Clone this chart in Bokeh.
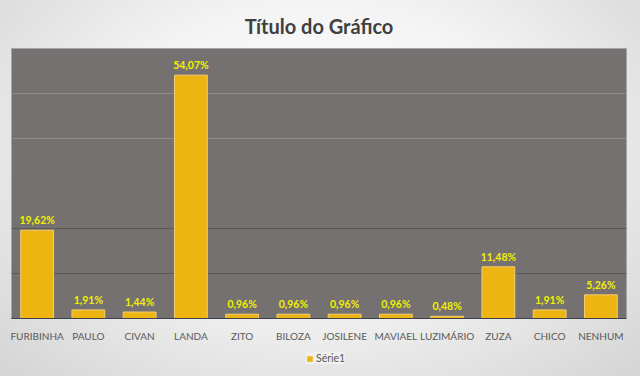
from bokeh.plotting import figure
from bokeh.layouts import column
from bokeh.models import (ColumnDataSource, FactorRange, Range1d, Grid, FixedTicker,
                          Legend, LegendItem, InlineStyleSheet, LabelSet)
from bokeh.core.properties import value
from bokeh.embed import file_html
from bokeh.resources import INLINE

categories = ["FURIBINHA", "PAULO", "CIVAN", "LANDA", "ZITO", "BILOZA", "JOSILENE",
              "MAVIAEL", "LUZIMÁRIO", "ZUZA", "CHICO", "NENHUM"]
values = [19.62, 1.91, 1.44, 54.07, 0.96, 0.96, 0.96, 0.96, 0.48, 11.48, 1.91, 5.26]
labels = ["19,62%", "1,91%", "1,44%", "54,07%", "0,96%", "0,96%", "0,96%", "0,96%",
          "0,48%", "11,48%", "1,91%", "5,26%"]
series_name = "Série1"
title_text = "Título do Gráfico"

src = ColumnDataSource(dict(cat=categories, val=values, lab=labels))

FONT = "Lato"
BAR_FILL = "#EDB412"
BAR_LINE = "#F2CE73"

xr = FactorRange(*categories, range_padding=0)

p = figure(width=640, height=344, output_backend="svg", toolbar_location=None,
           x_range=xr, y_range=Range1d(0, 60),
           min_border_left=11, min_border_right=14, min_border_top=48,
           min_border_bottom=22)
p.border_fill_color = None
p.background_fill_color = "#767171"
p.outline_line_color = "#a5a5a5"

p.title.text = title_text
p.title.align = "center"
p.title.text_font = FONT
p.title.text_font_size = "20px"
p.title.text_font_style = "bold"
p.title.text_color = "#404040"
p.title.standoff = 22

bars = p.vbar(x="cat", top="val", width=0.64, source=src,
              fill_color=BAR_FILL, line_color=BAR_LINE, line_width=1)

lbl = LabelSet(x="cat", y="val", text="lab", source=src, text_align="center",
               text_baseline="bottom", y_offset=4, text_color="#F0F000",
               text_font=value(FONT), text_font_size="10.5px", text_font_style="bold")
p.add_layout(lbl)

p.xgrid.visible = False
p.ygrid.visible = False
g1 = Grid(dimension=1, ticker=FixedTicker(ticks=[40, 50]), grid_line_color="#8e8a8a", grid_line_width=1)
g2 = Grid(dimension=1, ticker=FixedTicker(ticks=[10, 20]), grid_line_color="#5c5858", grid_line_width=1)
p.add_layout(g1, "center")
p.add_layout(g2, "center")

p.yaxis.visible = False
ax = p.xaxis[0]
ax.axis_line_color = "#3b3f4a"
ax.axis_line_width = 1
ax.major_tick_line_color = None
ax.minor_tick_line_color = None
ax.major_label_text_font = FONT
ax.major_label_text_font_size = "10px"
ax.major_label_text_color = "#595959"
ax.major_label_standoff = 5

# legend strip (series renderer hidden; only its legend entry shows)
p2 = figure(width=640, height=32, output_backend="svg", toolbar_location=None,
            x_range=xr, y_range=Range1d(-2, -1),
            min_border=0, x_axis_type=None, y_axis_type=None)
p2.border_fill_color = None
p2.background_fill_color = None
p2.outline_line_color = None
p2.grid.visible = False
legend_bars = p2.vbar(x="cat", top="val", width=0.64, source=src,
                      fill_color=BAR_FILL, line_color=None)
legend_bars.visible = False

legend = Legend(items=[LegendItem(label=series_name, renderers=[legend_bars])],
                orientation="horizontal", location=(295, 12),
                label_text_font=FONT, label_text_font_size="10.5px",
                label_text_color="#595959", glyph_width=7, glyph_height=7,
                label_height=12, label_width=10,
                label_standoff=3, padding=4, margin=0, spacing=0,
                background_fill_color="#f0f0f0", background_fill_alpha=1,
                border_line_color=None)
p2.add_layout(legend, "center")

layout = column(p, p2, spacing=0)
layout.stylesheets = [InlineStyleSheet(css=":host { background: radial-gradient(ellipse at 50% 40%, #ffffff 0%, #f4f4f4 45%, #d4d4d4 100%); }")]

open("out.html", "w").write(file_html(layout, INLINE))
